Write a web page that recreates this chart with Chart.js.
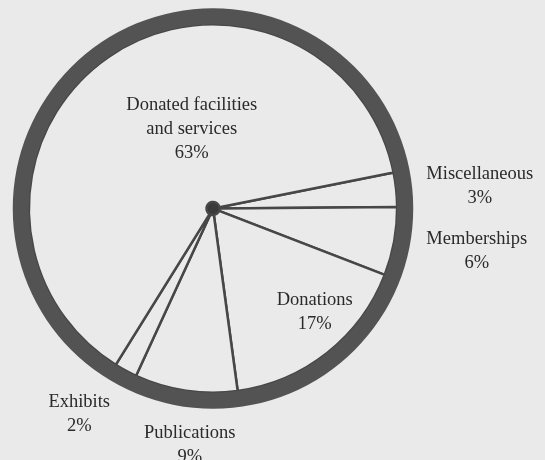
<!DOCTYPE html>
<html>
<head>
<meta charset="utf-8">
<script src="https://cdn.jsdelivr.net/npm/chart.js@4.4.1/dist/chart.umd.min.js"></script>
<style>
  html, body { margin: 0; padding: 0; background: #eaeaea; }
  #wrap { width: 545px; height: 460px; }
</style>
</head>
<body>
<div id="wrap"><canvas id="pie"></canvas></div>
<script>
// datos (sentido horario desde Miscellaneous)
const categorias = ['Miscellaneous', 'Memberships', 'Donations', 'Publications', 'Exhibits', ['Donated facilities', 'and services']];
const porcentajes = [3, 6, 17, 9, 2, 63];

// posicion de cada etiqueta respecto al centro, en radios del circulo
const etiquetaDx = [1.332, 1.317, 0.508, -0.116, -0.668, -0.106];
const etiquetaDy = [-0.113, 0.214, 0.520, 1.183, 1.028, -0.394];

const fondo = '#eaeaea';
const tinta = '#2a2a2a';

const etiquetas = {
    id: 'etiquetas',
    afterDatasetsDraw(chart) {
        const aro = chart.getDatasetMeta(0).data[0];
        const cx = aro.x, cy = aro.y, R = aro.outerRadius;
        const ctx = chart.ctx;
        ctx.save();
        ctx.fillStyle = tinta;
        ctx.font = '18.5px "Liberation Serif", "Times New Roman", serif';
        ctx.textAlign = 'center';
        ctx.textBaseline = 'middle';
        categorias.forEach((cat, i) => {
            const lineas = [].concat(cat, porcentajes[i] + '%');
            const x = cx + etiquetaDx[i] * R;
            const y0 = cy + etiquetaDy[i] * R - (lineas.length - 1) * 24 / 2;
            lineas.forEach((t, j) => ctx.fillText(t, x, y0 + j * 24));
        });
        ctx.restore();
    }
};

new Chart(document.getElementById('pie'), {
    type: 'pie',
    data: {
        labels: categorias,
        datasets: [
            { // aro exterior grueso
                data: [1],
                backgroundColor: '#535353',
                borderWidth: 0,
                weight: 16
            },
            {
                data: porcentajes,
                backgroundColor: fondo,
                borderColor: '#474747',
                borderWidth: 2.5,
                weight: 176.5
            },
            { // punto central
                data: [1],
                backgroundColor: '#3a3a3a',
                borderWidth: 0,
                weight: 6.5
            }
        ]
    },
    options: {
        responsive: true,
        maintainAspectRatio: false,
        animation: false,
        rotation: 78.7,
        hoverOffset: 0,
        layout: { padding: { left: 12.75, top: 8.25, right: 131.75, bottom: 51.25 } },
        plugins: {
            legend: { display: false },
            tooltip: { enabled: false }
        }
    },
    plugins: [etiquetas]
});
</script>
</body>
</html>
